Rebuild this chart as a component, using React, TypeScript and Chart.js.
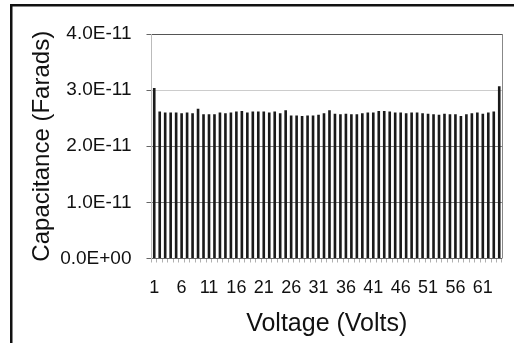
import { useEffect, useRef } from "react";
import { Chart, registerables } from "chart.js";

Chart.register(...registerables);

const voltages = [
  "1", "2", "3", "4", "5", "6", "7", "8", "9", "10",
  "11", "12", "13", "14", "15", "16", "17", "18", "19", "20",
  "21", "22", "23", "24", "25", "26", "27", "28", "29", "30",
  "31", "32", "33", "34", "35", "36", "37", "38", "39", "40",
  "41", "42", "43", "44", "45", "46", "47", "48", "49", "50",
  "51", "52", "53", "54", "55", "56", "57", "58", "59", "60",
  "61", "62", "63", "64",
];

const capacitance = [
  3.04e-11, 2.62e-11, 2.60e-11, 2.60e-11, 2.60e-11, 2.59e-11, 2.60e-11, 2.59e-11, 2.67e-11, 2.57e-11,
  2.57e-11, 2.57e-11, 2.60e-11, 2.59e-11, 2.60e-11, 2.62e-11, 2.63e-11, 2.60e-11, 2.62e-11, 2.62e-11,
  2.62e-11, 2.60e-11, 2.62e-11, 2.59e-11, 2.64e-11, 2.55e-11, 2.55e-11, 2.54e-11, 2.55e-11, 2.55e-11,
  2.56e-11, 2.59e-11, 2.64e-11, 2.58e-11, 2.57e-11, 2.58e-11, 2.57e-11, 2.57e-11, 2.59e-11, 2.60e-11,
  2.60e-11, 2.63e-11, 2.63e-11, 2.62e-11, 2.60e-11, 2.60e-11, 2.59e-11, 2.60e-11, 2.60e-11, 2.59e-11,
  2.58e-11, 2.57e-11, 2.56e-11, 2.58e-11, 2.57e-11, 2.57e-11, 2.54e-11, 2.57e-11, 2.59e-11, 2.60e-11,
  2.58e-11, 2.60e-11, 2.62e-11, 3.07e-11,
];

const yMin = 0;
const yMax = 4e-11;
const yStep = 1e-11;
const xLabelEvery = 5;
const xAxisTitle = "Voltage (Volts)";
const yAxisTitle = "Capacitance (Farads)";

function formatSci(v: number): string {
  const s = Number(v).toExponential(1);
  const [m, e] = s.split("e");
  const sign = e.startsWith("-") ? "-" : "+";
  const digits = e.replace(/^[+-]/, "").padStart(2, "0");
  return `${m}E${sign}${digits}`;
}

const framePlugin = {
  id: "frame",
  beforeDraw(chart: any) {
    const { ctx, width, height } = chart;
    ctx.save();
    ctx.fillStyle = "#ffffff";
    ctx.fillRect(0, 0, width, height);
    ctx.fillStyle = "#111111";
    ctx.fillRect(10, 4, 2.5, height - 4);
    ctx.fillRect(10, 4, width - 10, 2.5);
    ctx.restore();
  },
  afterDraw(chart: any) {
    const { ctx, chartArea } = chart;
    ctx.save();
    ctx.strokeStyle = "#888888";
    ctx.lineWidth = 1;
    const x = Math.round(chartArea.right) + 0.5;
    ctx.beginPath();
    ctx.moveTo(x, chartArea.top);
    ctx.lineTo(x, chartArea.bottom);
    ctx.stroke();
    ctx.restore();
  },
};

export default function App() {
  const canvasRef = useRef<HTMLCanvasElement | null>(null);

  useEffect(() => {
    if (!canvasRef.current) return;
    Chart.defaults.font.family = "'Liberation Sans', Arial, sans-serif";
    const chart = new Chart(canvasRef.current, {
      type: "bar",
      data: {
        labels: voltages,
        datasets: [
          {
            data: capacitance,
            backgroundColor: "#1a1a1a",
            borderWidth: 0,
            barPercentage: 0.48,
            categoryPercentage: 1,
          },
        ],
      },
      options: {
        responsive: false,
        animation: false,
        devicePixelRatio: 1,
        layout: { padding: { left: 0, top: 34, right: 7, bottom: 0 } },
        plugins: {
          legend: { display: false },
          tooltip: { enabled: false },
        },
        scales: {
          x: {
            type: "category",
            offset: true,
            afterFit: (s: any) => {
              s.height = 84.5;
            },
            grid: {
              display: true,
              drawOnChartArea: false,
              drawTicks: true,
              tickLength: 4,
              color: "#b0b0b0",
              offset: true,
            },
            border: { display: true, color: "#666666", width: 1 },
            ticks: {
              autoSkip: false,
              maxRotation: 0,
              minRotation: 0,
              padding: 14.7,
              color: "#111111",
              font: { size: 18 },
              callback: (_v: any, i: number) => (i % xLabelEvery === 0 ? voltages[i] : ""),
            },
            title: {
              display: true,
              text: xAxisTitle,
              color: "#111111",
              font: { size: 25 },
              padding: { top: 0, bottom: 4 },
            },
          },
          y: {
            min: yMin,
            max: yMax,
            afterFit: (s: any) => {
              s.width = 151.5;
            },
            grid: {
              tickLength: 5,
              color: (ctx: any) => {
                const i = ctx.index;
                if (i === 0) return "#666666";
                if (i === 4) return "#555555";
                if (i === 3) return "#cccccc";
                return "#808080";
              },
              tickColor: "#666666",
            },
            border: { display: true, color: "#bbbbbb", width: 1 },
            ticks: {
              stepSize: yStep,
              padding: 15,
              color: "#111111",
              font: { size: 19 },
              callback: (v: any) => formatSci(Number(v)),
            },
            title: {
              display: true,
              text: yAxisTitle,
              color: "#111111",
              font: { size: 24 },
              padding: { top: 27.6, bottom: 0 },
            },
          },
        },
      },
      plugins: [framePlugin],
    } as any);
    return () => chart.destroy();
  }, []);

  return (
    <div style={{ position: "fixed", left: 0, top: 0, width: 514, height: 343, background: "#fff" }}>
      <canvas ref={canvasRef} width={514} height={343} style={{ display: "block", width: 514, height: 343 }} />
    </div>
  );
}
